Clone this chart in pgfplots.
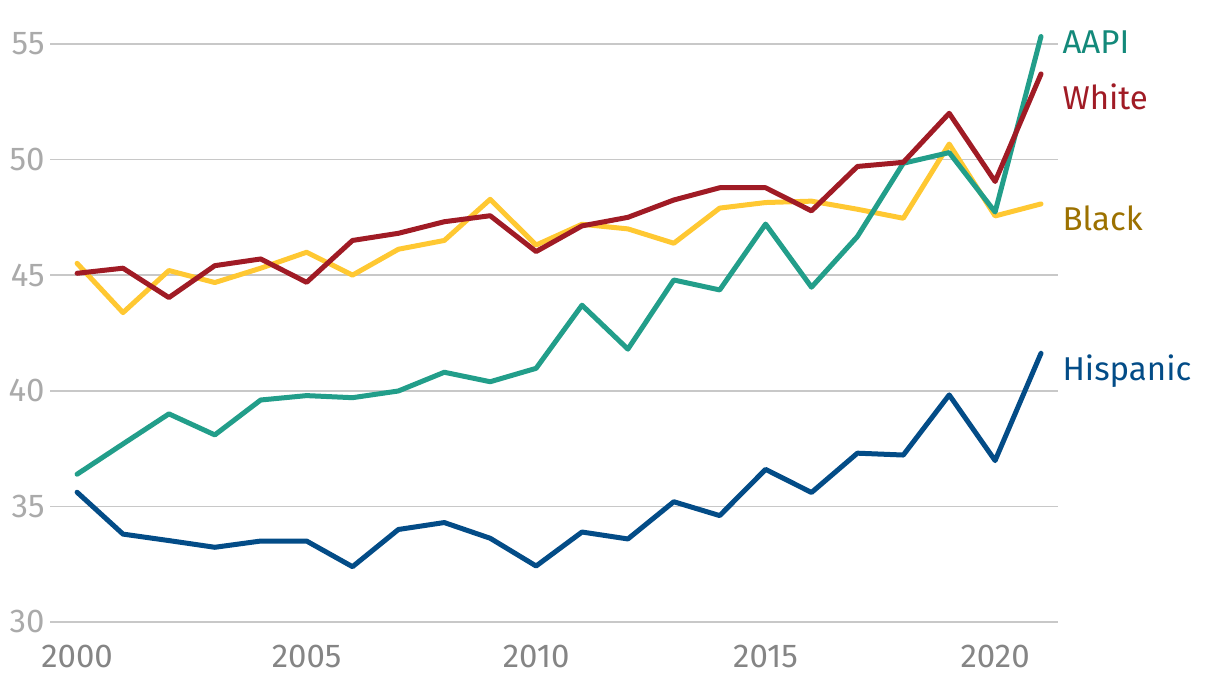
\documentclass[border=0pt]{standalone}
\usepackage{pgfplots}
\pgfplotsset{compat=1.18}
\usepackage{fontspec}
\setmainfont{Fira Sans}
\definecolor{aapi}{HTML}{229E8A}
\definecolor{aapitxt}{HTML}{13897A}
\definecolor{white}{HTML}{A01B25}
\definecolor{black}{HTML}{FFC832}
\definecolor{blacktxt}{HTML}{9C7100}
\definecolor{hisp}{HTML}{034C87}
\definecolor{gridc}{HTML}{C8C8C8}
\definecolor{ylab}{HTML}{AAAAAA}
\definecolor{xlab}{HTML}{858585}
\begin{document}
\begin{tikzpicture}
\begin{axis}[
  scale only axis, width=504pt, height=292.5pt,
  xmin=1999.41, xmax=2021.37, ymin=30, ymax=55.3,
  axis line style={draw=none}, major tick length=0pt,
  xtick={2000,2005,...,2020}, ytick={30,35,...,55},
  ymajorgrids, grid style={color=gridc, line width=0.75pt},
  tick label style={font=\fontsize{16.5}{18}\selectfont},
  xticklabel style={color=xlab, inner sep=0pt, yshift=-11.5pt},
  yticklabel style={color=ylab, inner sep=0pt, xshift=-2.5pt},
  /pgf/number format/1000 sep={}, /pgf/number format/assume math mode=true,
  clip=false,
  every axis plot/.append style={line width=2.5pt, line join=round, line cap=round, mark=none},
]
\path (axis cs:1998.32,27.06) rectangle (axis cs:2024.90,56.90);
% Black
\addplot[color=black] coordinates {
(2000,45.51)(2001,43.38)(2002,45.2)(2003,44.68)(2004,45.3)(2005,45.99)(2006,45.0)(2007,46.12)(2008,46.5)(2009,48.28)(2010,46.3)(2011,47.2)(2012,47.0)(2013,46.38)(2014,47.9)(2015,48.14)(2016,48.2)(2017,47.85)(2018,47.46)(2019,50.67)(2020,47.56)(2021,48.08)};
% AAPI
\addplot[color=aapi] coordinates {
(2000,36.39)(2001,37.7)(2002,39.0)(2003,38.09)(2004,39.6)(2005,39.79)(2006,39.7)(2007,39.99)(2008,40.8)(2009,40.39)(2010,40.97)(2011,43.7)(2012,41.8)(2013,44.79)(2014,44.36)(2015,47.21)(2016,44.48)(2017,46.67)(2018,49.84)(2019,50.3)(2020,47.73)(2021,55.32)};
% White
\addplot[color=white] coordinates {
(2000,45.08)(2001,45.3)(2002,44.03)(2003,45.41)(2004,45.7)(2005,44.69)(2006,46.5)(2007,46.81)(2008,47.31)(2009,47.57)(2010,46.02)(2011,47.13)(2012,47.5)(2013,48.25)(2014,48.78)(2015,48.78)(2016,47.78)(2017,49.7)(2018,49.88)(2019,52.0)(2020,49.05)(2021,53.7)};
% Hispanic
\addplot[color=hisp] coordinates {
(2000,35.61)(2001,33.8)(2002,33.52)(2003,33.23)(2004,33.5)(2005,33.5)(2006,32.39)(2007,34.0)(2008,34.3)(2009,33.62)(2010,32.42)(2011,33.89)(2012,33.59)(2013,35.2)(2014,34.6)(2015,36.6)(2016,35.6)(2017,37.3)(2018,37.22)(2019,39.82)(2020,36.98)(2021,41.62)};
\begin{scope}[every node/.style={font=\fontsize{16.5}{18}\selectfont, inner sep=0pt, anchor=base west}]
\node[text=aapitxt] at (axis cs:2021.46,54.57) {AAPI};
\node[text=white] at (axis cs:2021.46,52.15) {White};
\node[text=blacktxt] at (axis cs:2021.46,46.95) {Black};
\node[text=hisp] at (axis cs:2021.46,40.45) {Hispanic};
\end{scope}
\end{axis}
\end{tikzpicture}
\end{document}
